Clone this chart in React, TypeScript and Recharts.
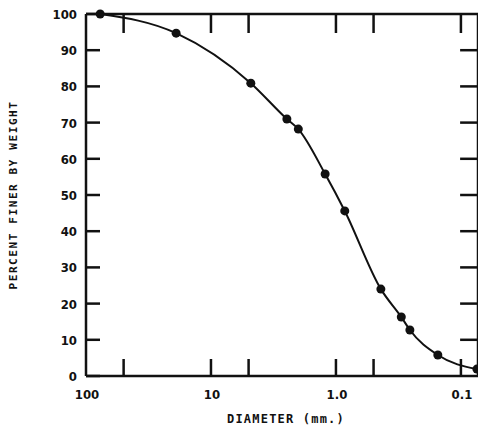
import React from 'react';
import { ComposedChart, Line, XAxis, YAxis, ReferenceLine } from 'recharts';

// sieve analysis
const diameters = [77, 19, 4.8, 2.47, 2.0, 1.22, 0.85, 0.437, 0.30, 0.256, 0.153, 0.0745];
const percents = [100, 94.7, 80.9, 71, 68.2, 55.8, 45.6, 24, 16.3, 12.7, 5.8, 1.9];

const xTicks = [100, 50, 10, 5, 1, 0.5, 0.1];
const xLabels: Record<string, string> = { '100': '100', '10': '10', '1': '1.0', '0.1': '0.1' };
const frameTicks = [50, 10, 5, 1, 0.5, 0.1];
const yTicks = [0, 10, 20, 30, 40, 50, 60, 70, 80, 90, 100];
const rightTicks = [10, 20, 30, 40, 50, 60, 70, 80, 90];
const X_MIN = 0.073;
const xDomain = [X_MIN, 100];

const numFont = "'DejaVu Sans Condensed', 'DejaVu Sans', sans-serif";
const titleFont = "'DejaVu Sans Mono', monospace";
const INK = '#111';

const data = diameters.map((d, i) => ({ d, pct: percents[i] }));

// ticks point into the plot; the ones at 0/100 just sit on the frame
function LeftTick(p: any) {
  return (
    <g>
      <path d={`M${p.x},${p.y}h14`} stroke={INK} strokeWidth={2.5} fill="none" />
      <text x={p.x - 9} y={p.y + 5} textAnchor="end" fontFamily={numFont} fontWeight={700} fontSize={13} fill={INK}>{p.payload.value}</text>
    </g>
  );
}

function BottomTick(p: any) {
  const v = Number(p.payload.value);
  const lab = xLabels[String(v)];
  return (
    <g>
      {v < 100 && <line x1={p.x} x2={p.x} y1={p.y} y2={p.y - 17} stroke={INK} strokeWidth={2.5} />}
      {lab && <text x={p.x + 1} y={p.y + 23} textAnchor="middle" fontFamily={numFont} fontWeight={700} fontSize={13} fill={INK}>{lab}</text>}
    </g>
  );
}

export default function App() {
  return (
    <div style={{ position: 'absolute', left: 0, top: 0, background: '#fff' }}>
      <ComposedChart width={478} height={429} data={data} margin={{ top: 14, right: 0, bottom: 0, left: 0 }}>
        <XAxis dataKey="d" type="number" scale="log" domain={xDomain} allowDataOverflow reversed
          ticks={xTicks} interval={0} height={53} tickSize={0} tickMargin={0} tick={BottomTick}
          stroke={INK} strokeWidth={2.5}
          label={{ content: (lp: any) => (
            <text x={lp.viewBox.x + lp.viewBox.width / 2 + 4} y={lp.viewBox.y + 47} textAnchor="middle"
              fontFamily={titleFont} fontWeight={700} fontSize={12} letterSpacing={1.2} fill={INK}>DIAMETER  (mm.)</text>
          ) }} />
        <YAxis type="number" domain={[0, 100]} ticks={yTicks} interval={0} width={86}
          tickSize={0} tickMargin={0} tick={LeftTick} stroke={INK} strokeWidth={2.5}
          label={{ content: (lp: any) => {
            const cy = lp.viewBox.y + lp.viewBox.height / 2;
            return (
              <text x={17} y={cy} transform={`rotate(-90, 17, ${cy})`} textAnchor="middle"
                fontFamily={titleFont} fontWeight={700} fontSize={11} letterSpacing={1.6} fill={INK}>PERCENT FINER BY WEIGHT</text>
            );
          } }} />
        {/* top and right frame */}
        <ReferenceLine y={100} stroke={INK} strokeWidth={2.5} ifOverflow="visible" />
        <ReferenceLine x={X_MIN} stroke={INK} strokeWidth={2.5} ifOverflow="visible" />
        {frameTicks.map((t) => (
          <ReferenceLine key={`t${t}`} ifOverflow="visible"
            segment={[{ x: t, y: 100 }, { x: t, y: 94.75 }]} stroke={INK} strokeWidth={2.5} />
        ))}
        {rightTicks.map((t) => (
          <ReferenceLine key={`r${t}`} ifOverflow="visible"
            segment={[{ x: X_MIN, y: t }, { x: 0.1015, y: t }]} stroke={INK} strokeWidth={2.5} />
        ))}
        <Line dataKey="pct" type="monotone" stroke={INK} strokeWidth={2}
          dot={{ r: 4.5, fill: INK, stroke: INK, strokeWidth: 0 }} isAnimationActive={false} />
      </ComposedChart>
    </div>
  );
}
